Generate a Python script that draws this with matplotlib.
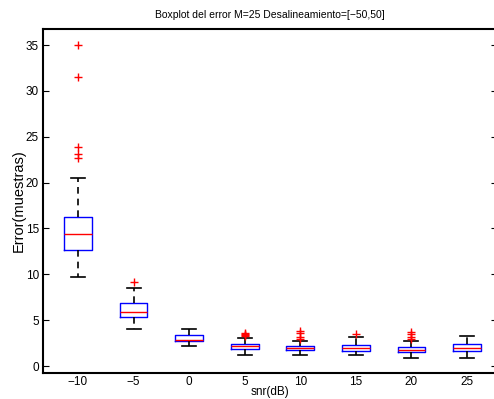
import matplotlib
matplotlib.use('Agg')
import matplotlib.pyplot as plt

plt.rcParams['font.family'] = ['Liberation Sans', 'DejaVu Sans']

snr = ['-10', '-5', '0', '5', '10', '15', '20', '25']
whislo = [9.74, 4.07, 2.15, 1.2, 1.2, 1.2, 0.87, 0.87]
q1 = [12.65, 5.3, 2.69, 1.89, 1.71, 1.67, 1.53, 1.64]
med = [14.4, 5.93, 2.84, 2.15, 1.96, 1.96, 1.8, 2.0]
q3 = [16.2, 6.83, 3.34, 2.4, 2.22, 2.33, 2.03, 2.4]
whishi = [20.5, 8.47, 4.07, 3.09, 2.73, 3.13, 2.76, 3.3]
fliers = [
    [35.0, 31.5, 23.9, 23.1, 22.7],
    [9.2],
    [],
    [3.25, 3.4, 3.5, 3.6],
    [2.9, 3.2, 3.56, 3.85],
    [3.45],
    [3.0, 3.2, 3.5, 3.74],
    [],
]

stats = []
for i in range(len(snr)):
    stats.append({'whislo': whislo[i], 'q1': q1[i], 'med': med[i], 'q3': q3[i],
                  'whishi': whishi[i], 'fliers': fliers[i], 'label': snr[i]})

fig = plt.figure(figsize=(4.94, 3.99), dpi=100)
# right edge of the box sits just past the image, as in the reference
ax = fig.add_axes([43 / 494, 26 / 399, 454 / 494, 344 / 399])

ax.bxp(stats, positions=range(1, 9), widths=0.5, capwidths=0.25,
       boxprops=dict(color='blue', linewidth=1),
       medianprops=dict(color='red', linewidth=1),
       whiskerprops=dict(color='black', linestyle='--', linewidth=1.2, dashes=(4, 3)),
       capprops=dict(color='black', linewidth=1.2),
       flierprops=dict(marker='+', markeredgecolor='red', markersize=6, linestyle='none'))

ax.set_xlim(0.37, 8.54)
ax.set_ylim(-0.76, 36.75)
ax.set_yticks([0, 5, 10, 15, 20, 25, 30, 35])
ax.set_xticklabels(['\u221210', '\u22125', '0', '5', '10', '15', '20', '25'])
ax.tick_params(axis='y', direction='in', left=True, right=True, length=4, labelsize=8.5, pad=3)
ax.tick_params(axis='x', length=0, labelsize=8.5, pad=2)
for s in ax.spines.values():
    s.set_linewidth(1.5)

ax.set_title('Boxplot del error M=25 Desalineamiento=[\u221250,50]', fontsize=7.5, pad=8)
ax.set_xlabel('snr(dB)', fontsize=8.5, labelpad=-1)
ax.set_ylabel('Error(muestras)', fontsize=10.5, labelpad=0)

fig.savefig('out.png', dpi=100)
